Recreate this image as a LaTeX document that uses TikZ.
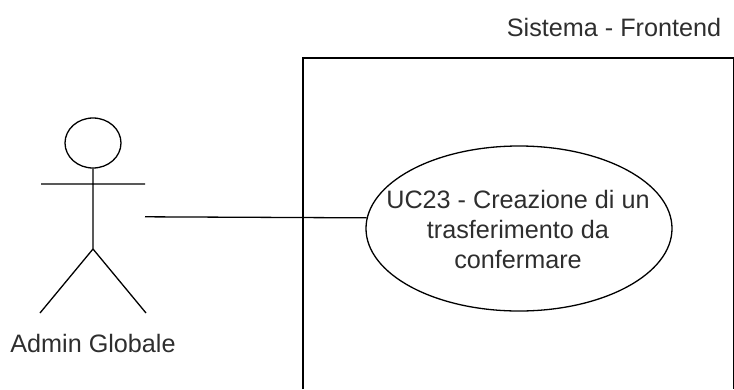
\documentclass[tikz,border=0pt]{standalone}
\usepackage{fontspec}
\setmainfont{Liberation Sans}
\usetikzlibrary{shapes.geometric}
\tikzset{
 ln/.style={draw=black,line width=1.3pt},
 lbl/.style={font=\fontsize{25.2}{30}\selectfont,text=black!82,inner sep=0pt,align=center}
}
\begin{document}
\begin{tikzpicture}[x=1pt,y=-1pt]
\useasboundingbox (0,0) rectangle (734,389);
\draw[ln] (303,389) -- (303,58) -- (733.6,58) -- (733.6,389);
\node[lbl,anchor=base] (sys) at (614,36) {Sistema - Frontend};
\node[ln,ellipse,minimum width=306,minimum height=165,inner sep=0pt] (uc) at (519,228.5) {};
\node[lbl] (uct) at (518,229.5) {UC23 - Creazione di un\\trasferimento da\\confermare};
\node[ln,ellipse,minimum width=56,minimum height=50,inner sep=0pt] (head) at (93,143) {};
\coordinate (hip) at (93,249);
\coordinate (la) at (41,184);
\coordinate (ra) at (145,184);
\coordinate (lf) at (40,313);
\coordinate (rf) at (146,313);
\coordinate (as) at (145,216.8);
\draw[ln] (head.south) -- (hip) (la) -- (ra) (lf) -- (hip) -- (rf);
\draw[ln] (as) -- (uc.176.2);
\node[lbl,anchor=base] (actor) at (93,352) {Admin Globale};
\end{tikzpicture}
\end{document}
